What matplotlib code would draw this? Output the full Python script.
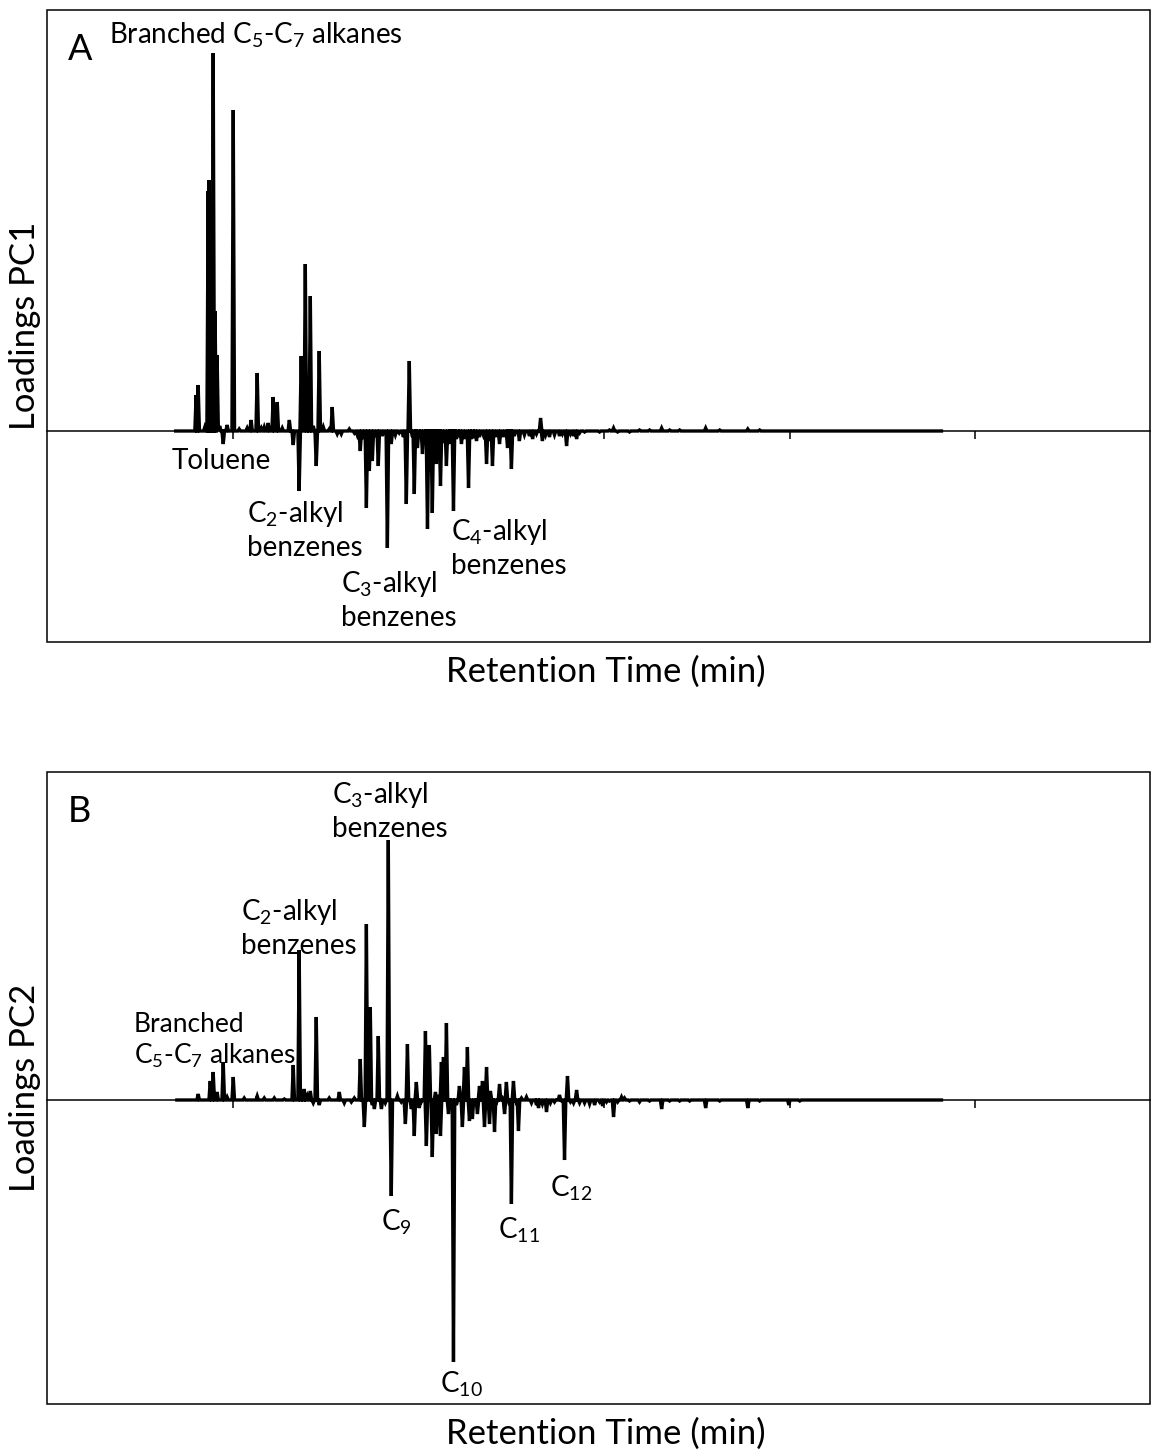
import numpy as np
import matplotlib
matplotlib.use("Agg")
import matplotlib.pyplot as plt
from matplotlib.patches import Rectangle

plt.rcParams['font.family'] = ['Lato', 'DejaVu Sans']
plt.rcParams['mathtext.fontset'] = 'custom'
plt.rcParams['mathtext.rm'] = 'Lato'
plt.rcParams['mathtext.it'] = 'Lato'
plt.rcParams['mathtext.default'] = 'regular'

# ---------------- data (retention time in min, loading) ----------------
pc1_time = [7.00, 8.03, 8.14, 8.50, 8.68, 8.73, 8.84, 8.95, 9.05, 9.16, 9.30, 9.49, 9.70,
            10.03, 10.35, 10.78, 10.99, 11.32, 11.54, 11.70, 11.91, 12.18, 12.40, 12.67,
            13.05, 13.26, 13.58, 13.69, 13.91, 14.07, 14.18, 14.34, 14.50, 14.66, 14.88,
            15.20, 15.36, 15.63, 15.85, 16.28, 16.55, 16.71, 16.87, 17.03, 17.20, 17.36,
            17.52, 17.68, 17.84, 18.06, 18.33, 18.54, 18.76, 18.97, 19.19, 19.35, 19.51,
            19.68, 19.78, 19.95, 20.05, 20.22, 20.38, 20.49, 20.59, 20.75, 20.86, 20.97,
            21.08, 21.19, 21.35, 21.51, 21.67, 21.78, 21.89, 22.05, 22.16, 22.32, 22.48,
            22.70, 22.86, 22.96, 23.13, 23.29, 23.50, 23.67, 23.83, 23.99, 24.15, 24.37,
            24.58, 24.80, 24.91, 25.01, 25.17, 25.44, 25.71, 25.98, 26.15, 26.36, 26.58,
            26.68, 26.85, 27.06, 27.33, 27.60, 27.76, 27.98, 28.19, 28.36, 28.52, 28.68,
            28.95, 29.22, 29.76, 30.29, 30.51, 30.73, 30.94, 31.37, 31.91, 32.45, 33.10,
            33.53, 34.07, 34.61, 35.47, 36.23, 36.77, 37.74, 38.38, 48.10]
pc1_load = [0.000, 0.036, 0.046, 0.004, 0.240, 0.251, 0.200, 0.378, 0.120, 0.076, 0.005, -0.013, 0.006,
            0.321, 0.002, 0.003, 0.011, 0.058, 0.003, 0.004, 0.008, 0.034, 0.029, 0.003,
            0.011, -0.014, -0.060, 0.075, 0.167, 0.020, 0.135, 0.005, -0.035, 0.080, 0.004,
            0.002, 0.024, -0.003, -0.003, 0.002, -0.002, -0.004, -0.020, -0.008, -0.077, -0.040,
            -0.030, -0.006, -0.035, -0.005, -0.117, -0.013, -0.004, -0.002, -0.006, -0.073, 0.070,
            -0.006, -0.063, -0.017, -0.006, -0.023, -0.010, -0.098, -0.040, -0.082, -0.020, -0.033,
            -0.010, -0.055, -0.012, -0.035, -0.013, -0.008, -0.080, -0.008, -0.006, -0.013, -0.008,
            -0.057, -0.008, -0.007, -0.010, -0.006, -0.004, -0.033, -0.010, -0.035, -0.006, -0.013,
            -0.006, -0.017, -0.010, -0.038, -0.005, -0.010, -0.004, -0.005, -0.008, -0.003, 0.013,
            -0.010, -0.004, -0.006, -0.004, -0.005, -0.003, -0.015, -0.003, -0.005, -0.008, -0.002,
            -0.001, 0.000, -0.001, 0.001, 0.003, -0.001, 0.000, -0.001, 0.001, 0.001, 0.003,
            0.001, 0.001, 0.000, 0.003, 0.001, 0.000, 0.002, 0.001, 0.000]

pc2_time = [7.06, 8.14, 8.79, 8.95, 9.16, 9.49, 9.70, 10.03, 10.62, 11.32, 11.70, 12.24, 12.78,
            13.26, 13.58, 13.75, 13.85, 14.02, 14.18, 14.34, 14.50, 14.66, 15.20, 15.74, 16.01,
            16.39, 16.55, 16.87, 17.09, 17.20, 17.41, 17.52, 17.63, 17.84, 18.01, 18.22, 18.38,
            18.54, 18.71, 18.87, 19.08, 19.30, 19.41, 19.62, 19.78, 19.89, 20.05, 20.16, 20.38,
            20.43, 20.59, 20.75, 20.92, 20.97, 21.13, 21.19, 21.24, 21.35, 21.51, 21.62, 21.78,
            21.89, 22.05, 22.21, 22.37, 22.48, 22.64, 22.75, 22.91, 23.07, 23.18, 23.29, 23.45,
            23.56, 23.67, 23.83, 23.88, 24.10, 24.20, 24.37, 24.53, 24.64, 24.74, 24.91, 25.01,
            25.12, 25.28, 25.39, 25.55, 25.82, 26.09, 26.36, 26.47, 26.68, 26.90, 27.11, 27.33,
            27.60, 27.71, 27.87, 28.03, 28.19, 28.36, 28.52, 28.68, 28.95, 29.22, 29.49, 29.76,
            29.92, 30.13, 30.29, 30.51, 30.73, 30.94, 31.10, 31.37, 31.91, 32.45, 33.10, 33.53,
            34.07, 34.61, 35.47, 36.23, 36.77, 37.74, 38.38, 39.95, 40.54, 48.10]
pc2_load = [0.000, 0.006, 0.019, 0.028, 0.008, 0.038, 0.003, 0.023, 0.002, 0.004, 0.002, 0.002, 0.001,
            0.035, 0.150, 0.005, 0.011, 0.004, 0.009, -0.003, 0.083, -0.005, 0.002, 0.008, -0.003,
            -0.002, 0.002, 0.041, -0.027, 0.176, 0.093, -0.005, -0.009, 0.064, -0.009, -0.003, 0.260,
            -0.096, 0.000, 0.004, -0.002, -0.024, 0.056, -0.009, -0.036, 0.018, -0.008, -0.002, 0.069,
            -0.046, 0.055, -0.057, 0.008, -0.034, 0.005, -0.036, 0.038, 0.043, 0.077, -0.014, -0.008,
            -0.262, -0.005, 0.014, -0.027, 0.033, 0.053, -0.021, -0.019, -0.005, -0.014, 0.014, 0.019,
            -0.027, 0.033, -0.024, 0.009, -0.032, -0.003, 0.016, 0.002, -0.014, 0.018, -0.005, -0.104,
            0.019, -0.003, -0.031, 0.002, 0.003, -0.003, -0.005, -0.008, -0.004, -0.012, -0.003, -0.002,
            0.005, -0.001, -0.060, 0.024, -0.002, -0.003, 0.010, -0.003, -0.003, -0.004, -0.005, -0.002,
            -0.006, -0.002, -0.001, -0.017, -0.002, 0.003, 0.002, -0.001, -0.002, -0.001, -0.009, -0.001,
            -0.001, -0.001, -0.008, -0.001, 0.000, -0.008, -0.001, -0.005, -0.001, 0.000]

time_ticks = [10, 20, 30, 40, 50]

labels_a = [("A", 1.13, 0.371, 26, 'left', 'baseline'),
            ("Branched C$_5$-C$_7$ alkanes", 3.34, 0.388, 20, 'left', 'baseline'),
            ("Toluene", 9.38, -0.030, 20, 'center', 'center'),
            ("C$_2$-alkyl\nbenzenes", 10.78, -0.099, 20, 'left', 'center'),
            ("C$_3$-alkyl\nbenzenes", 15.85, -0.169, 20, 'left', 'center'),
            ("C$_4$-alkyl\nbenzenes", 21.78, -0.117, 20, 'left', 'center')]
labels_b = [("B", 1.13, 0.278, 26, 'left', 'baseline'),
            ("C$_3$-alkyl\nbenzenes", 15.36, 0.289, 20, 'left', 'center'),
            ("C$_2$-alkyl\nbenzenes", 10.46, 0.172, 20, 'left', 'center'),
            ("Branched\nC$_5$-C$_7$ alkanes", 4.69, 0.059, 19, 'left', 'center'),
            ("C$_9$", 18.81, -0.122, 20, 'center', 'center'),
            ("C$_{10}$", 22.30, -0.284, 20, 'center', 'center'),
            ("C$_{11}$", 25.44, -0.130, 20, 'center', 'center'),
            ("C$_{12}$", 28.25, -0.088, 20, 'center', 'center')]


def spikes(t, y, w=0.07):
    t = np.asarray(t, float)
    y = np.asarray(y, float)
    xs = np.column_stack([t - w, t, t + w]).ravel()
    ys = np.column_stack([np.zeros_like(y), y, np.zeros_like(y)]).ravel()
    return xs, ys


fig = plt.figure(figsize=(11.51, 14.51), dpi=100)
W, H = 1151.0, 1451.0
ax1 = fig.add_axes([47 / W, (H - 642) / H, 1103 / W, 632 / H])
ax2 = fig.add_axes([47 / W, (H - 1404) / H, 1103 / W, 632 / H])

panels = [(ax1, pc1_time, pc1_load, (-0.211, 0.421), "Loadings PC1", labels_a),
          (ax2, pc2_time, pc2_load, (-0.304, 0.328), "Loadings PC2", labels_b)]

for ax, t, y, ylim, ylab, labs in panels:
    xs, ys = spikes(t, y)
    ax.plot(xs, ys, color='black', lw=2.4, solid_joinstyle='miter', zorder=3)
    ax.set_xlim(0, 59.4)
    ax.set_ylim(*ylim)
    for s in ['top', 'left', 'right']:
        ax.spines[s].set_visible(False)
    ax.spines['bottom'].set_position(('data', 0))
    ax.spines['bottom'].set_linewidth(1.1)
    ax.add_patch(Rectangle((0, 0), 1, 1, transform=ax.transAxes, fill=False,
                           lw=1.1, edgecolor='black', clip_on=False, zorder=5))
    ax.set_xticks(time_ticks)
    ax.set_xticklabels([])
    ax.set_yticks([])
    ax.tick_params(axis='x', direction='out', length=6, width=1.1, color='black')
    ax.set_xlabel("Retention Time (min)", fontsize=25)
    ax.xaxis.set_label_coords(0.507, -0.047)
    ax.xaxis.label.set_va('center')
    ax.set_ylabel(ylab, fontsize=25)
    ax.yaxis.set_label_coords(-0.020, 0.5)
    ax.yaxis.label.set_va('center')
    for txt, tx, ty, fs, ha, va in labs:
        ax.text(tx, ty, txt, fontsize=fs, ha=ha, va=va, linespacing=1.25,
                multialignment='left')

fig.savefig("out.png", dpi=100)
